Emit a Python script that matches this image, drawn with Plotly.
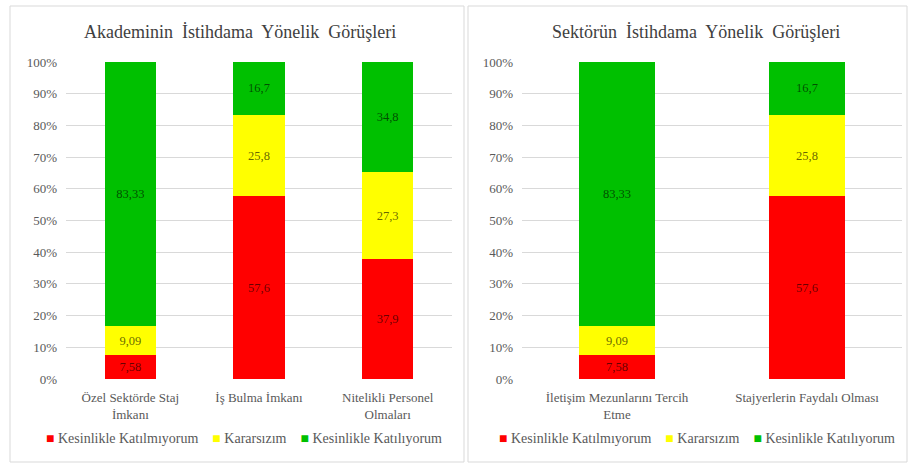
import plotly.graph_objects as go

series_names = ["Kesinlikle Katılmıyorum", "Kararsızım", "Kesinlikle Katılıyorum"]
colors = ["#FF0000", "#FFFF00", "#00C000"]

left_title = "Akademinin  İstihdama  Yönelik  Görüşleri"
left_categories = ["Özel Sektörde Staj<br>İmkanı", "İş Bulma İmkanı", "Nitelikli Personel<br>Olmaları"]
left_disagree = [7.58, 57.6, 37.9]
left_undecided = [9.09, 25.8, 27.3]
left_agree = [83.33, 16.7, 34.8]

right_title = "Sektörün  İstihdama  Yönelik  Görüşleri"
right_categories = ["İletişim Mezunlarını Tercih<br>Etme", "Stajyerlerin Faydalı Olması"]
right_disagree = [7.58, 57.6]
right_undecided = [9.09, 25.8]
right_agree = [83.33, 16.7]

y_ticks = [0, 10, 20, 30, 40, 50, 60, 70, 80, 90, 100]
y_tick_labels = ["0%", "10%", "20%", "30%", "40%", "50%", "60%", "70%", "80%", "90%", "100%"]

W, H = 908, 465
FONT = "Liberation Serif, Times New Roman, serif"
label_color = "rgba(0,0,0,0.62)"

fig = go.Figure()

left_series = [left_disagree, left_undecided, left_agree]
right_series = [right_disagree, right_undecided, right_agree]

for name, col, vals in zip(series_names, colors, left_series):
    fig.add_trace(go.Bar(
        x=left_categories, y=vals, name=name, marker=dict(color=col, line=dict(width=0)),
        texttemplate="%{y}", textposition="inside", insidetextanchor="middle",
        textfont=dict(family=FONT, size=12.5, color=label_color),
        xaxis="x", yaxis="y", showlegend=False, hoverinfo="skip",
    ))
for name, col, vals in zip(series_names, colors, right_series):
    fig.add_trace(go.Bar(
        x=right_categories, y=vals, name=name, marker=dict(color=col, line=dict(width=0)),
        texttemplate="%{y}", textposition="inside", insidetextanchor="middle",
        textfont=dict(family=FONT, size=12.5, color=label_color),
        xaxis="x2", yaxis="y2", showlegend=False, hoverinfo="skip",
    ))

y_bottom = 1 - 379 / H
y_top = 1 - 62 / H

yaxis_common = dict(
    range=[0, 100], tickvals=y_ticks, ticktext=y_tick_labels, showgrid=True,
    gridcolor="#D9D9D9", gridwidth=1, zeroline=False, showline=False, automargin=False,
    tickfont=dict(family=FONT, size=13, color="#595959"), ticks="", ticklabelstandoff=8,
    fixedrange=True,
)
xaxis_common = dict(
    showgrid=False, showline=False, zeroline=False, ticks="", automargin=False,
    tickfont=dict(family=FONT, size=13, color="#595959"), ticklabelstandoff=9,
    fixedrange=True,
)

# legend built as text from the series names and colours
legend_text = "    ".join(
    f"<span style='color:{c}'>■</span> {n}" for n, c in zip(series_names, colors)
)

fig.update_layout(
    width=W, height=H,
    margin=dict(l=0, r=0, t=0, b=0, autoexpand=False),
    paper_bgcolor="white", plot_bgcolor="white",
    barmode="stack", bargap=0.6,
    separators=",.",
    showlegend=False,
    font=dict(family=FONT, color="#595959"),
    xaxis=dict(domain=[66 / W, 452 / W], anchor="y", **xaxis_common),
    yaxis=dict(domain=[y_bottom, y_top], anchor="x", **yaxis_common),
    xaxis2=dict(domain=[522 / W, 902 / W], anchor="y2", **xaxis_common),
    yaxis2=dict(domain=[y_bottom, y_top], anchor="x2", **yaxis_common),
    annotations=[
        dict(text=left_title, x=240 / W, y=1 - 32 / H, xref="paper", yref="paper",
             xanchor="center", yanchor="middle",
             showarrow=False, font=dict(family=FONT, size=18, color="#404040")),
        dict(text=right_title, x=696 / W, y=1 - 32 / H, xref="paper", yref="paper",
             xanchor="center", yanchor="middle",
             showarrow=False, font=dict(family=FONT, size=18, color="#404040")),
        dict(text=legend_text, x=244 / W, y=1 - 438 / H, xref="paper", yref="paper",
             xanchor="center", yanchor="middle",
             showarrow=False, font=dict(family=FONT, size=14, color="#595959")),
        dict(text=legend_text, x=697 / W, y=1 - 438 / H, xref="paper", yref="paper",
             xanchor="center", yanchor="middle",
             showarrow=False, font=dict(family=FONT, size=14, color="#595959")),
    ],
    shapes=[
        dict(type="rect", xref="paper", yref="paper", x0=10 / W, x1=464 / W, y0=1 - 462 / H, y1=1 - 6 / H,
             line=dict(color="#D9D9D9", width=1)),
        dict(type="rect", xref="paper", yref="paper", x0=468 / W, x1=907 / W, y0=1 - 462 / H, y1=1 - 6 / H,
             line=dict(color="#D9D9D9", width=1)),
    ],
)

fig.write_html("out.html", config={"displayModeBar": False},
               post_script="document.body.style.margin='0px';")
